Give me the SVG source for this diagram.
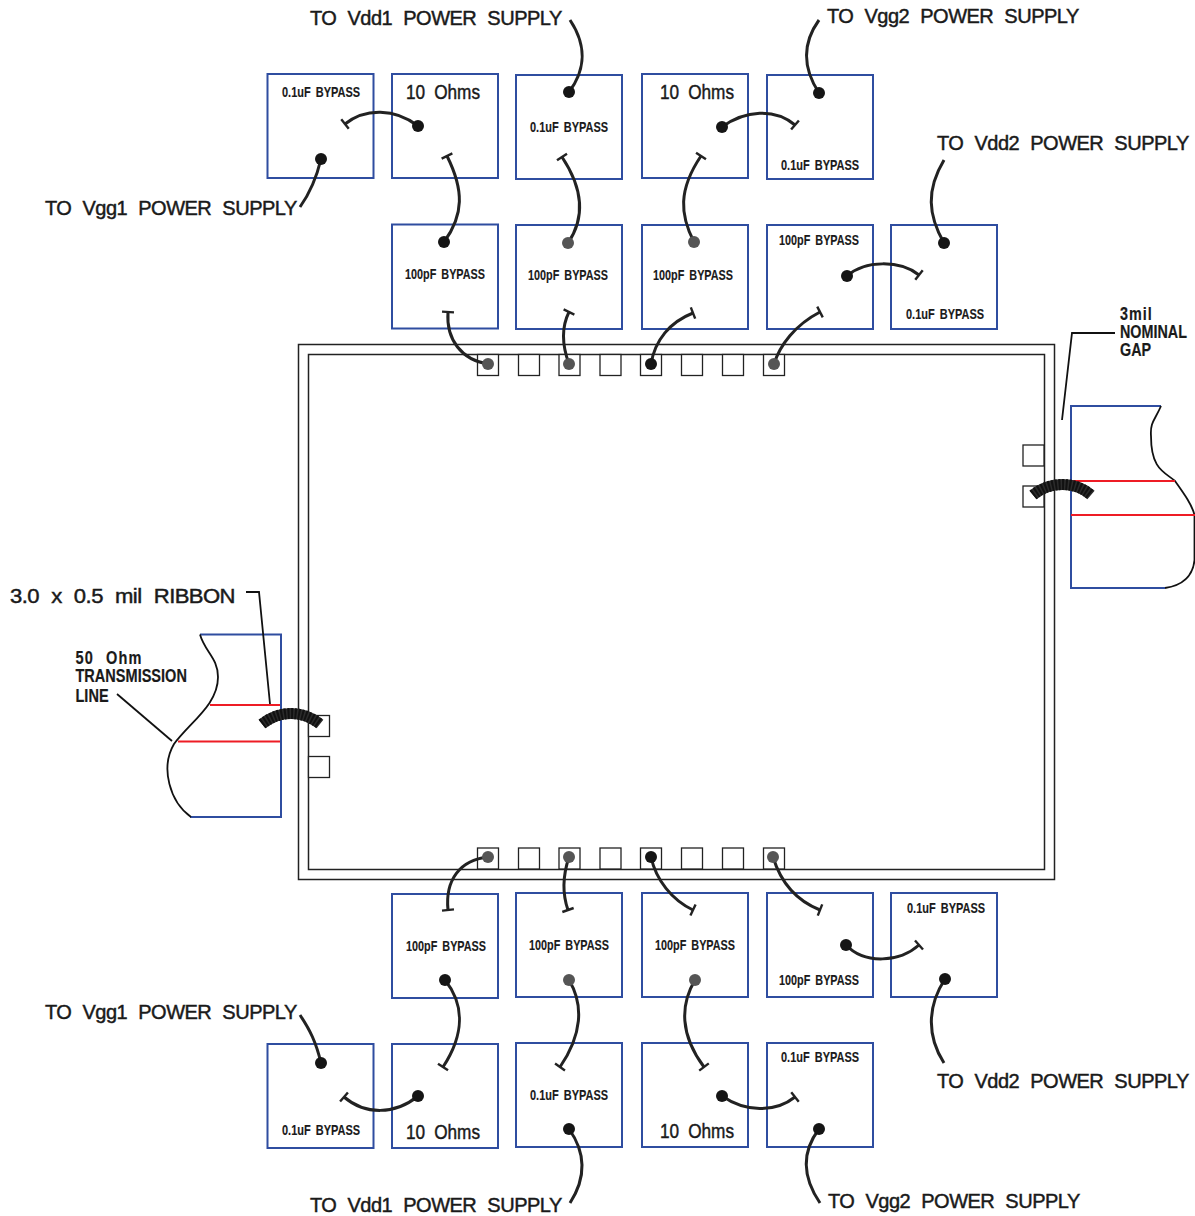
<svg xmlns="http://www.w3.org/2000/svg" width="1195" height="1216" viewBox="0 0 1195 1216">
<style>
text{font-family:"Liberation Sans",Arial,sans-serif;fill:#1a1a1a;stroke:#1a1a1a}
.l{font-size:20px;word-spacing:6px;letter-spacing:-.5px;stroke-width:.45px}
.o{font-size:20px;word-spacing:5px;stroke-width:.45px}
.s{font-size:15.500px;font-weight:bold;word-spacing:3px;stroke-width:.15px}
.m{font-size:19px;font-weight:bold;word-spacing:3px;stroke-width:.2px}
.b{fill:#fff;stroke:#2f4da0;stroke-width:2}
.p{fill:#fff;stroke:#222;stroke-width:1.3}
.c{fill:none;stroke:#222;stroke-width:3;marker-start:url(#dot)}
.t{marker-end:url(#tee)}
.g{marker-start:url(#dotg)}
.k{fill:none;stroke:#111;stroke-width:1.8}
.r{stroke:#ee1c25;stroke-width:2;fill:none}
.u{fill:none;stroke:#2f4da0;stroke-width:2}
.rb{fill:none;stroke:#2b2b2b;stroke-width:11}
.rh{fill:none;stroke:#111;stroke-width:11;stroke-dasharray:2 1.500}
</style>
<defs>
<marker id="dot" markerUnits="userSpaceOnUse" markerWidth="14" markerHeight="14" refX="7" refY="7"><circle cx="7" cy="7" r="6" fill="#151515"/></marker>
<marker id="dotg" markerUnits="userSpaceOnUse" markerWidth="14" markerHeight="14" refX="7" refY="7"><circle cx="7" cy="7" r="6" fill="#555"/></marker>
<marker id="tee" markerUnits="userSpaceOnUse" markerWidth="6" markerHeight="16" refX="3" refY="8" orient="auto"><path d="M3,2V14" stroke="#222" stroke-width="2.4" fill="none"/></marker>
</defs>
<g id="chip"><rect x="298.500" y="344.500" width="756" height="535" fill="none" stroke="#222" stroke-width="1.500"/><rect x="308.500" y="354.500" width="736" height="515" fill="none" stroke="#222" stroke-width="1.500"/>
<g id="pads">
<rect class="p" x="477.500" y="354.500" width="21" height="21"/><rect class="p" x="518.500" y="354.500" width="21" height="21"/><rect class="p" x="559" y="354.500" width="21" height="21"/><rect class="p" x="600" y="354.500" width="21" height="21"/><rect class="p" x="640.500" y="354.500" width="21" height="21"/><rect class="p" x="681.500" y="354.500" width="21" height="21"/><rect class="p" x="722.500" y="354.500" width="21" height="21"/><rect class="p" x="763.500" y="354.500" width="21" height="21"/>
<rect class="p" x="477.500" y="848" width="21" height="21"/><rect class="p" x="518.500" y="848" width="21" height="21"/><rect class="p" x="559" y="848" width="21" height="21"/><rect class="p" x="600" y="848" width="21" height="21"/><rect class="p" x="640.500" y="848" width="21" height="21"/><rect class="p" x="681.500" y="848" width="21" height="21"/><rect class="p" x="722.500" y="848" width="21" height="21"/><rect class="p" x="763.500" y="848" width="21" height="21"/>
<rect class="p" x="308.500" y="715.500" width="21" height="21"/><rect class="p" x="308.500" y="756.500" width="21" height="21"/><rect class="p" x="1023" y="445" width="21" height="21"/><rect class="p" x="1023" y="486" width="21" height="21"/>
</g></g>
<g id="n1"><rect class="b" x="267.500" y="74" width="106" height="104"/><text class="s" x="282" y="97" textLength="78" lengthAdjust="spacingAndGlyphs">0.1uF BYPASS</text></g>
<g id="n2"><rect class="b" x="392" y="74" width="106" height="104"/><text class="o" x="406" y="98.500" textLength="74" lengthAdjust="spacingAndGlyphs">10 Ohms</text></g>
<g id="n3"><rect class="b" x="516" y="75" width="106" height="104"/><text class="s" x="530" y="132" textLength="78" lengthAdjust="spacingAndGlyphs">0.1uF BYPASS</text></g>
<g id="n4"><rect class="b" x="642" y="74" width="106" height="104"/><text class="o" x="660" y="98.500" textLength="74" lengthAdjust="spacingAndGlyphs">10 Ohms</text></g>
<g id="n5"><rect class="b" x="767" y="75" width="106" height="104"/><text class="s" x="781" y="170" textLength="78" lengthAdjust="spacingAndGlyphs">0.1uF BYPASS</text></g>
<g id="n6"><rect class="b" x="392" y="224.500" width="106" height="104"/><text class="s" x="405" y="279" textLength="80" lengthAdjust="spacingAndGlyphs">100pF BYPASS</text></g>
<g id="n7"><rect class="b" x="516" y="225" width="106" height="104"/><text class="s" x="528" y="280" textLength="80" lengthAdjust="spacingAndGlyphs">100pF BYPASS</text></g>
<g id="n8"><rect class="b" x="642" y="225" width="106" height="104"/><text class="s" x="653" y="280" textLength="80" lengthAdjust="spacingAndGlyphs">100pF BYPASS</text></g>
<g id="n9"><rect class="b" x="767" y="225" width="106" height="104"/><text class="s" x="779" y="245" textLength="80" lengthAdjust="spacingAndGlyphs">100pF BYPASS</text></g>
<g id="n10"><rect class="b" x="891" y="225" width="106" height="104"/><text class="s" x="906" y="319" textLength="78" lengthAdjust="spacingAndGlyphs">0.1uF BYPASS</text></g>
<g id="n11"><rect class="b" x="392" y="894" width="106" height="104"/><text class="s" x="406" y="951" textLength="80" lengthAdjust="spacingAndGlyphs">100pF BYPASS</text></g>
<g id="n12"><rect class="b" x="516" y="893" width="106" height="104"/><text class="s" x="529" y="950" textLength="80" lengthAdjust="spacingAndGlyphs">100pF BYPASS</text></g>
<g id="n13"><rect class="b" x="642" y="893" width="106" height="104"/><text class="s" x="655" y="950" textLength="80" lengthAdjust="spacingAndGlyphs">100pF BYPASS</text></g>
<g id="n14"><rect class="b" x="767" y="893" width="106" height="104"/><text class="s" x="779" y="985" textLength="80" lengthAdjust="spacingAndGlyphs">100pF BYPASS</text></g>
<g id="n15"><rect class="b" x="891" y="893" width="106" height="104"/><text class="s" x="907" y="913" textLength="78" lengthAdjust="spacingAndGlyphs">0.1uF BYPASS</text></g>
<g id="n16"><rect class="b" x="267.500" y="1044" width="106" height="104"/><text class="s" x="282" y="1135" textLength="78" lengthAdjust="spacingAndGlyphs">0.1uF BYPASS</text></g>
<g id="n17"><rect class="b" x="392" y="1044" width="106" height="104"/><text class="o" x="406" y="1139" textLength="74" lengthAdjust="spacingAndGlyphs">10 Ohms</text></g>
<g id="n18"><rect class="b" x="516" y="1043" width="106" height="104"/><text class="s" x="530" y="1100" textLength="78" lengthAdjust="spacingAndGlyphs">0.1uF BYPASS</text></g>
<g id="n19"><rect class="b" x="642" y="1043" width="106" height="104"/><text class="o" x="660" y="1138" textLength="74" lengthAdjust="spacingAndGlyphs">10 Ohms</text></g>
<g id="n20"><rect class="b" x="767" y="1043" width="106" height="104"/><text class="s" x="781" y="1062" textLength="78" lengthAdjust="spacingAndGlyphs">0.1uF BYPASS</text></g>
<g id="line-left"><path class="u" d="M200,634.500H281V817H190"/><path class="k" d="M200,634.500C205,652 218,658 218,677C218,705 190,722 174,744C160,768 170,802 191,817"/><path class="r" d="M210,705H280M178,741.500H280"/></g>
<g id="line-right"><path class="u" d="M1161,406H1071V588H1165"/><path class="k" d="M1161,406C1155,420 1150,422 1151,436C1151,470 1165,472 1175,481C1185,495 1192,505 1194.500,515V560C1193,575 1185,585 1165,588"/><path class="r" d="M1071,481H1175M1071,515H1195"/></g>
<g id="connectors">
<path class="c" d="M569,92C582,75 590,50 570,20"/>
<path class="c t" d="M418,126C395,108 365,108 345,124"/>
<path class="c" d="M321,159C316,180 310,193 300,207"/>
<path class="c t" d="M444,242C464,215 464,190 447,156"/>
<path class="c g t" d="M488,364C462,360 446,340 448,312"/>
<path class="c g t" d="M569,364C562,345 561,328 569,312"/>
<path class="c g t" d="M568,243C585,218 584,190 562,157"/>
<path class="c t" d="M722,127C745,110 775,108 795,125"/>
<path class="c" d="M819,93C804,70 801,45 819,20"/>
<path class="c g t" d="M694,242C680,215 678,190 701,156"/>
<path class="c t" d="M651,364C655,340 670,322 693,313"/>
<path class="c g t" d="M774,364C780,345 795,325 820,312"/>
<path class="c t" d="M847,276C865,260 900,260 919,275"/>
<path class="c" d="M944,243C928,215 926,190 944,160"/>
<path class="c g t" d="M488,857C460,860 445,880 448,910"/>
<path class="c g t" d="M569,857C563,875 562,893 568,910"/>
<path class="c t" d="M651,857C656,880 672,900 693,910"/>
<path class="c g t" d="M773,857C780,880 795,900 820,910"/>
<path class="c t" d="M846,945C865,965 900,962 919,945"/>
<path class="c" d="M945,979C928,1005 926,1035 944,1063"/>
<path class="c t" d="M445,980C465,1005 464,1035 443,1067"/>
<path class="c g t" d="M569,980C584,1005 582,1035 560,1067"/>
<path class="c g t" d="M695,980C680,1005 680,1035 704,1067"/>
<path class="c t" d="M418,1096C395,1115 365,1115 344,1097"/>
<path class="c t" d="M722,1096C745,1112 775,1113 795,1097"/>
<path class="c" d="M321,1063C316,1042 310,1030 300,1015"/>
<path class="c" d="M569,1129C584,1150 588,1175 570,1203"/>
<path class="c" d="M819,1129C803,1150 801,1175 820,1203"/>
<path class="rb" d="M262,724C280,710 302,710 320,724"/>
<path class="rh" d="M262,724C280,710 302,710 320,724"/>
<path class="rb" d="M1033,495C1050,481 1075,481 1091,495"/>
<path class="rh" d="M1033,495C1050,481 1075,481 1091,495"/>
<path class="k" d="M246,592H259L270,704"/>
<path class="k" d="M117,694L172,741"/>
<path class="k" d="M1115,333H1072L1062,420"/>
</g>
<g id="labels">
<text class="l" x="310" y="25">TO Vdd1 POWER SUPPLY</text>
<text class="l" x="827" y="23">TO Vgg2 POWER SUPPLY</text>
<text class="l" x="937" y="150">TO Vdd2 POWER SUPPLY</text>
<text class="l" x="45" y="215">TO Vgg1 POWER SUPPLY</text>
<text class="l" x="45" y="1019">TO Vgg1 POWER SUPPLY</text>
<text class="l" x="937" y="1088">TO Vdd2 POWER SUPPLY</text>
<text class="l" x="310" y="1212">TO Vdd1 POWER SUPPLY</text>
<text class="l" x="828" y="1208">TO Vgg2 POWER SUPPLY</text>
<text class="l" x="10" y="603" textLength="225" lengthAdjust="spacingAndGlyphs">3.0 x 0.5 mil RIBBON</text>
<text class="m" transform="translate(75.500,0) scale(.765,1)"><tspan x="0" y="664" style="word-spacing:9px;letter-spacing:1.500px">50 Ohm</tspan><tspan x="0" y="682">TRANSMISSION</tspan><tspan x="0" y="702">LINE</tspan></text>
<text class="m" transform="translate(1120,0) scale(.755,1)"><tspan x="0" y="320" style="letter-spacing:1.300px">3mil</tspan><tspan x="0" y="338">NOMINAL</tspan><tspan x="0" y="356">GAP</tspan></text>
</g>
</svg>
